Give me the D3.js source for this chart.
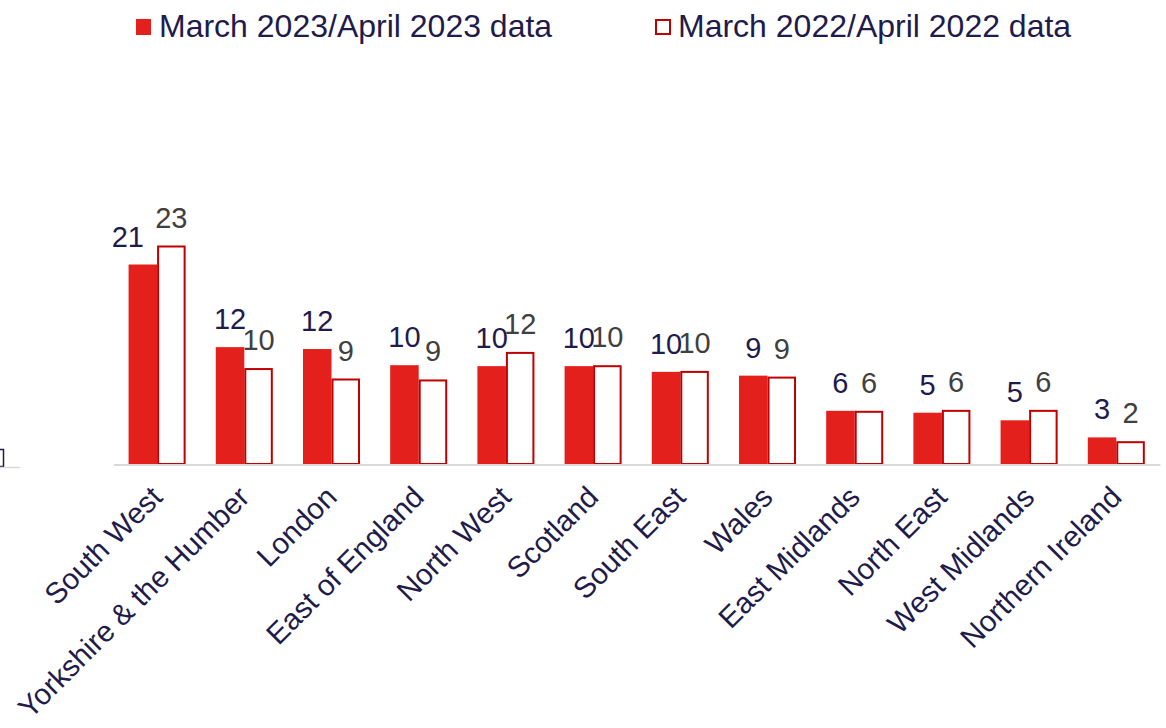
<!DOCTYPE html>
<html>
<head>
<meta charset="utf-8">
<script src="https://cdn.jsdelivr.net/npm/d3@7"></script>
<style>
  html, body { margin: 0; padding: 0; background: #ffffff; }
  svg { display: block; }
  text { font-family: "Liberation Sans", Arial, sans-serif; }
</style>
</head>
<body>
<svg id="chart" width="1166" height="728"></svg>
<script>
// ---- data ----
const categories = ["South West", "Yorkshire & the Humber", "London", "East of England", "North West", "Scotland", "South East", "Wales", "East Midlands", "North East", "West Midlands", "Northern Ireland"];
const values2023 = [21.0, 12.3, 12.1, 10.4, 10.3, 10.3, 9.7, 9.3, 5.6, 5.4, 4.6, 2.8];
const values2022 = [23.0, 10.1, 9.0, 8.9, 11.8, 10.4, 9.8, 9.2, 5.6, 5.7, 5.7, 2.4];
const seriesNames = ["March 2023/April 2023 data", "March 2022/April 2022 data"];

// ---- styling ----
const RED = "#e3201b";
const DARK_RED = "#c00000";
const NAVY = "#211b4b";
const GREY_TXT = "#404040";

const svg = d3.select("#chart");
const baseY = 464;

const x = d3.scaleBand().domain(categories).range([113.5, 1159.9]).paddingInner(0.346).paddingOuter(0.173);
const xs = d3.scaleBand().domain(["2023", "2022"]).range([0, x.bandwidth()]);
const y = d3.scaleLinear().domain([0, 30]).range([baseY, baseY - 285]);

const rows = categories.map((c, i) => ({ c, v23: values2023[i], v22: values2022[i], i }));

// small clipped artifact at far left
svg.append("path").attr("d", "M-2,449.5 H3.5 V466.5 H-2").attr("fill", "none").attr("stroke", NAVY).attr("stroke-width", 1.5);
svg.append("line").attr("x1", 0).attr("x2", 20).attr("y1", 467.5).attr("y2", 467.5).attr("stroke", "#d9d9d9").attr("stroke-width", 1.5);

// bars 2023 (filled)
svg.append("g").selectAll("rect").data(rows).join("rect")
  .attr("x", d => x(d.c) + xs("2023"))
  .attr("y", d => y(d.v23))
  .attr("width", xs.bandwidth())
  .attr("height", d => y(0) - y(d.v23))
  .attr("fill", RED);

// bars 2022 (outlined)
svg.append("g").selectAll("rect").data(rows).join("rect")
  .attr("x", d => x(d.c) + xs("2022") + 1)
  .attr("y", d => y(d.v22) + 1)
  .attr("width", xs.bandwidth() - 2)
  .attr("height", d => y(0) - y(d.v22) - 1)
  .attr("fill", "#ffffff")
  .attr("stroke", DARK_RED)
  .attr("stroke-width", 2);

// baseline axis
const xAxis = d3.axisBottom(x).tickSize(0).tickFormat("");
const ax = svg.append("g").attr("transform", `translate(0,${baseY + 0.5})`).call(xAxis);
ax.select(".domain").attr("stroke", "#d9d9d9").attr("stroke-width", 2);

// category labels
svg.append("g").selectAll("text").data(rows).join("text")
  .attr("transform", d => `translate(${x(d.c) + x.bandwidth() / 2 + 7},${499}) rotate(-45)`)
  .attr("text-anchor", "end")
  .attr("font-size", 29.5)
  .attr("fill", NAVY)
  .text(d => d.c);

// value labels 2023
svg.append("g").selectAll("text").data(rows).join("text")
  .attr("x", d => x(d.c) + xs("2023") + xs.bandwidth() / 2 - (d.i === 0 ? 15 : 0))
  .attr("y", d => y(d.v23) - 18)
  .attr("text-anchor", "middle")
  .attr("font-size", 29)
  .attr("fill", NAVY)
  .text(d => Math.round(d.v23));

// value labels 2022
svg.append("g").selectAll("text").data(rows).join("text")
  .attr("x", d => x(d.c) + xs("2022") + xs.bandwidth() / 2)
  .attr("y", d => y(d.v22) - 18)
  .attr("text-anchor", "middle")
  .attr("font-size", 29)
  .attr("fill", GREY_TXT)
  .text(d => Math.round(d.v22));

// legend
const legend = svg.append("g");
const legX = [136, 655];
seriesNames.forEach((name, i) => {
  const g = legend.append("g").attr("transform", `translate(${legX[i]},19)`);
  if (i === 0) {
    g.append("rect").attr("width", 15).attr("height", 16).attr("fill", RED);
  } else {
    g.append("rect").attr("x", 1).attr("y", 1).attr("width", 14).attr("height", 14)
      .attr("fill", "#ffffff").attr("stroke", DARK_RED).attr("stroke-width", 2);
  }
  g.append("text").attr("x", 23).attr("y", 18).attr("font-size", 32).attr("fill", NAVY).text(name);
});
</script>
</body>
</html>
